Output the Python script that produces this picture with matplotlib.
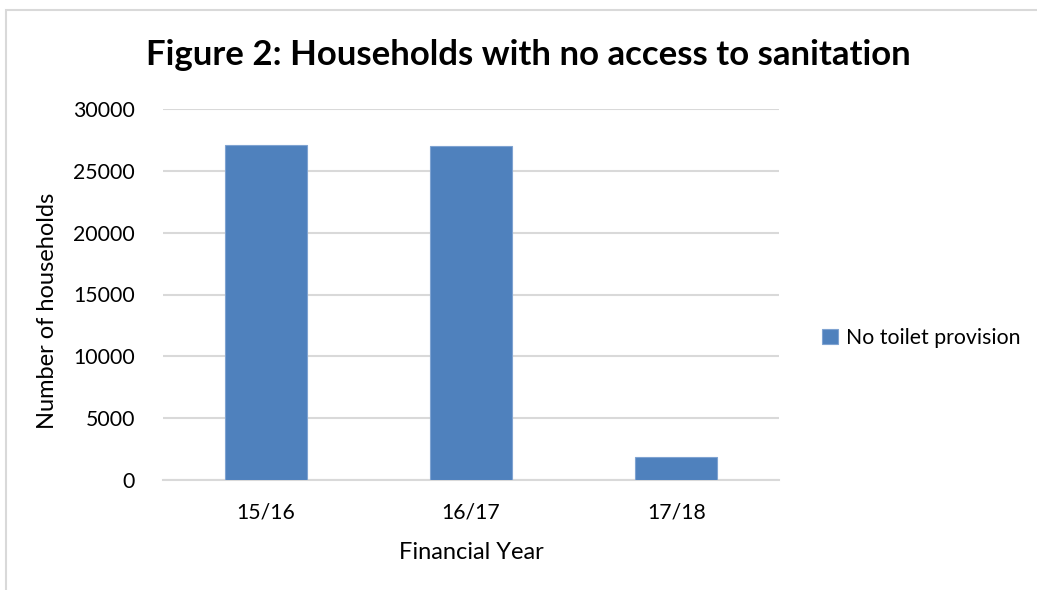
import matplotlib.pyplot as plt
from matplotlib.patches import Rectangle

years = ["15/16", "16/17", "17/18"]
no_toilet = [27090, 27030, 1880]
yticks = [0, 5000, 10000, 15000, 20000, 25000, 30000]

plt.rcParams['font.family'] = ['Lato', 'DejaVu Sans']

fig = plt.figure(figsize=(10.37, 5.9), dpi=100)
# outer chart frame
fig.patches.append(Rectangle((6/1037, -0.05), 1.1, 1 - 10/590 + 0.05, transform=fig.transFigure,
                             fill=False, edgecolor='#D9D9D9', linewidth=1.5))

ax = fig.add_axes([163/1037, 1 - 480/590, (779 - 163)/1037, (480 - 109)/590])
x = range(len(years))
ax.bar(x, no_toilet, width=0.4, color='#4F81BD', edgecolor='#7FA3D1', linewidth=0.8,
       label="No toilet provision", zorder=3)
ax.set_xlim(-0.5, 2.5)
ax.set_ylim(0, 30000)
ax.set_yticks(yticks)
ax.set_yticklabels([str(v) for v in yticks])
ax.set_xticks(list(x))
ax.set_xticklabels(years)
ax.grid(axis='y', color='#D9D9D9', linewidth=1.5, zorder=0)
for s in ['top', 'right', 'left']:
    ax.spines[s].set_visible(False)
ax.spines['bottom'].set_color('#D9D9D9')
ax.spines['bottom'].set_linewidth(1.5)
ax.tick_params(axis='both', length=0, labelsize=15.3, colors='black')
ax.tick_params(axis='x', pad=16)
ax.tick_params(axis='y', pad=20)
ax.set_xlabel("Financial Year", fontsize=17, labelpad=14)
ax.set_ylabel("Number of households", fontsize=17, va='center')
ax.yaxis.set_label_coords((48 - 163)/616, (480 - 311)/371)

fig.text(528/1037, 1 - 55/590, "Figure 2: Households with no access to sanitation",
         fontsize=25, fontweight='bold', ha='center', va='center')

ax.legend(loc='center left', bbox_to_anchor=(803/1037, 1 - 338/590), bbox_transform=fig.transFigure,
          frameon=False, fontsize=15.3, handlelength=0.75, handleheight=0.75, handletextpad=0.35)

fig.savefig("out.png", dpi=100)
